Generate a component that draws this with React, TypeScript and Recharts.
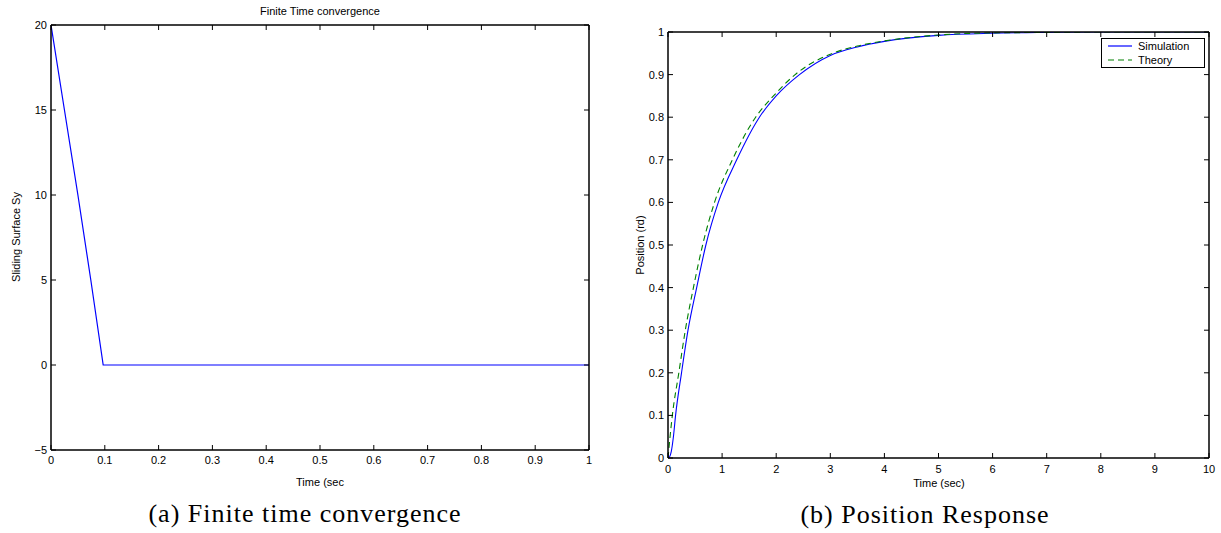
import React from 'react';
import { LineChart, Line, XAxis, YAxis } from 'recharts';

// (a) sliding surface
const surfTime = [0, 0.025, 0.05, 0.074, 0.097, 0.15, 0.2, 0.3, 1];
const surfValue = [20, 15, 10, 5, 0, 0, 0, 0, 0];
const surfXTicks = [0, 0.1, 0.2, 0.3, 0.4, 0.5, 0.6, 0.7, 0.8, 0.9, 1];
const surfYTicks = [-5, 0, 5, 10, 15, 20];

// (b) position response
const simTime = [0, 0.03, 0.06, 0.1, 0.14, 0.25, 0.37, 0.53, 0.7, 0.93, 1.27, 1.69, 2.0, 2.43, 3.0, 3.5, 4.0, 5.0, 6.0, 7.0, 8.0, 10.0];
const simPos = [0, 0.003, 0.015, 0.05, 0.1, 0.2, 0.3, 0.4, 0.5, 0.6, 0.7, 0.8, 0.85, 0.9, 0.945, 0.965, 0.978, 0.992, 0.997, 0.999, 1, 1];
const theoryTime = [0, 0.08, 0.2, 0.32, 0.47, 0.64, 0.86, 1.19, 1.62, 1.95, 2.35, 3.0, 3.5, 4.0, 5.0, 6.0, 7.0, 8.0, 10.0];
const theoryPos = [0, 0.1, 0.2, 0.3, 0.4, 0.5, 0.6, 0.7, 0.8, 0.85, 0.9, 0.948, 0.967, 0.979, 0.993, 0.998, 0.999, 1, 1];
const posXTicks = [0, 1, 2, 3, 4, 5, 6, 7, 8, 9, 10];
const posYTicks = [0, 0.1, 0.2, 0.3, 0.4, 0.5, 0.6, 0.7, 0.8, 0.9, 1];

const surfData = surfTime.map((t, i) => ({ t, s: surfValue[i] }));
const simData = simTime.map((t, i) => ({ t, p: simPos[i] }));
const theoryData = theoryTime.map((t, i) => ({ t, p: theoryPos[i] }));

const sans = '"Liberation Sans", Arial, sans-serif';
const serif = '"Liberation Serif", serif';
const tickStyle = { fontSize: 11, fill: '#000', fontFamily: sans };
const axisLine = { stroke: '#000', strokeWidth: 1.5 };
const tickLine = { stroke: '#000', strokeWidth: 1 };
const fmt = (v: number) => String(v).replace('-', '\u2212');
const blank = () => '';

const label = (text: string, left: number, top: number, extra: React.CSSProperties = {}) => (
  <div
    style={{
      position: 'absolute',
      left,
      top,
      transform: 'translate(-50%, -50%)',
      whiteSpace: 'nowrap',
      fontFamily: sans,
      fontSize: 11,
      color: '#000',
      ...extra,
    }}
  >
    {text}
  </div>
);

const App = () => {
  return (
    <div style={{ position: 'absolute', left: 0, top: 0, width: 1221, height: 533, background: '#fff' }}>
      <div style={{ position: 'absolute', left: 0, top: 0 }}>
        <LineChart width={610} height={533} data={surfData} margin={{ top: 24, right: 20, bottom: 53, left: 11 }}>
          <XAxis dataKey="t" type="number" domain={[0, 1]} ticks={surfXTicks} allowDataOverflow
            height={30} tickSize={-5} tickMargin={11} tick={tickStyle} axisLine={axisLine} tickLine={tickLine} tickFormatter={fmt} />
          <XAxis xAxisId="top" orientation="top" dataKey="t" type="number" domain={[0, 1]} ticks={surfXTicks} allowDataOverflow
            height={1} tickSize={-5} tickFormatter={blank} axisLine={axisLine} tickLine={tickLine} />
          <YAxis type="number" domain={[-5, 20]} ticks={surfYTicks} allowDataOverflow
            width={40} tickSize={-5} tickMargin={9} tick={tickStyle} axisLine={axisLine} tickLine={tickLine} tickFormatter={fmt} />
          <YAxis yAxisId="right" orientation="right" type="number" domain={[-5, 20]} ticks={surfYTicks} allowDataOverflow
            width={1} tickSize={-5} tickFormatter={blank} axisLine={axisLine} tickLine={tickLine} />
          <Line xAxisId="top" yAxisId="right" dataKey="s" stroke="none" dot={false} legendType="none" isAnimationActive={false} />
          <Line dataKey="s" type="linear" stroke="#0000ff" strokeWidth={1.2} dot={false} isAnimationActive={false} />
        </LineChart>
      </div>

      <div style={{ position: 'absolute', left: 610, top: 0 }}>
        <LineChart width={611} height={533} margin={{ top: 31, right: 11, bottom: 45, left: 18 }}>
          <XAxis dataKey="t" type="number" domain={[0, 10]} ticks={posXTicks} allowDataOverflow
            height={30} tickSize={-5} tickMargin={12} tick={tickStyle} axisLine={axisLine} tickLine={tickLine} />
          <XAxis xAxisId="top" orientation="top" dataKey="t" type="number" domain={[0, 10]} ticks={posXTicks} allowDataOverflow
            height={1} tickSize={-5} tickFormatter={blank} axisLine={axisLine} tickLine={tickLine} />
          <YAxis type="number" domain={[0, 1]} ticks={posYTicks} allowDataOverflow
            width={40} tickSize={-5} tickMargin={9} tick={tickStyle} axisLine={axisLine} tickLine={tickLine} />
          <YAxis yAxisId="right" orientation="right" type="number" domain={[0, 1]} ticks={posYTicks} allowDataOverflow
            width={1} tickSize={-5} tickFormatter={blank} axisLine={axisLine} tickLine={tickLine} />
          <Line xAxisId="top" yAxisId="right" data={simData} dataKey="p" stroke="none" dot={false} legendType="none" isAnimationActive={false} />
          <Line data={simData} dataKey="p" type="monotone" stroke="#0000ff" strokeWidth={1.1} dot={false} isAnimationActive={false} />
          <Line data={theoryData} dataKey="p" type="monotone" stroke="#008000" strokeWidth={1.1} strokeDasharray="6 4" dot={false} isAnimationActive={false} />
        </LineChart>
      </div>

      {label('Finite Time convergence', 320, 11)}
      {label('Sliding Surface Sy', 16, 237, { transform: 'translate(-50%, -50%) rotate(-90deg)' })}
      {label('Time (sec', 320, 482)}
      {label('Position (rd)', 640, 245, { transform: 'translate(-50%, -50%) rotate(-90deg)' })}
      {label('Time (sec)', 939, 483)}
      {label('(a) Finite time convergence', 305, 514, { fontFamily: serif, fontSize: 26, letterSpacing: 1 })}
      {label('(b) Position Response', 925, 515, { fontFamily: serif, fontSize: 26, letterSpacing: 1 })}

      <div
        style={{
          position: 'absolute', left: 1101, top: 38, width: 102, height: 28,
          border: '1px solid #000', background: '#fff', fontFamily: sans, fontSize: 11,
        }}
      >
        <div style={{ display: 'flex', alignItems: 'center', height: 14 }}>
          <svg width={36} height={10}><line x1={6} y1={5} x2={30} y2={5} stroke="#0000ff" strokeWidth={1.2} /></svg>
          <span>Simulation</span>
        </div>
        <div style={{ display: 'flex', alignItems: 'center', height: 14 }}>
          <svg width={36} height={10}><line x1={6} y1={5} x2={30} y2={5} stroke="#008000" strokeWidth={1.2} strokeDasharray="6 4" /></svg>
          <span>Theory</span>
        </div>
      </div>
    </div>
  );
};

export default App;
